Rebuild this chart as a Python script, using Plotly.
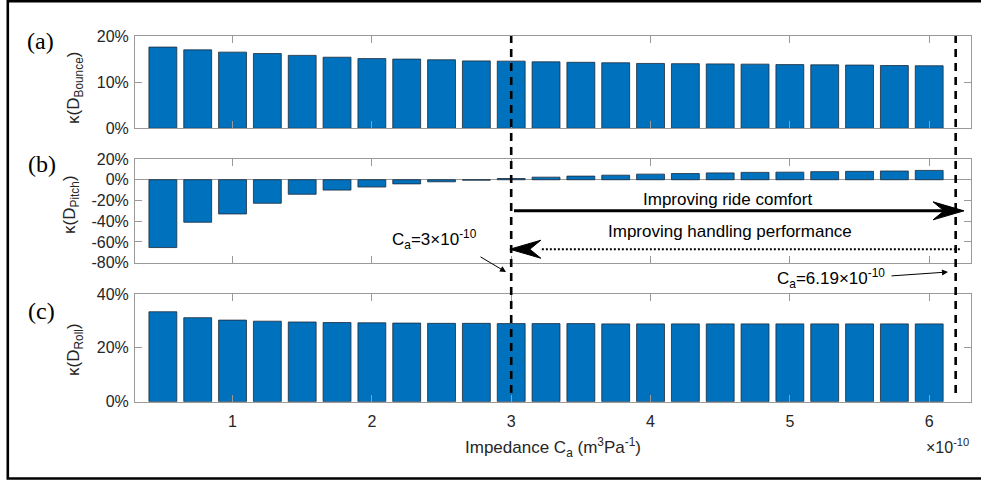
import plotly.graph_objects as go

# ---- data ---------------------------------------------------------------
impedance = [0.5, 0.75, 1.0, 1.25, 1.5, 1.75, 2.0, 2.25, 2.5, 2.75, 3.0, 3.25,
             3.5, 3.75, 4.0, 4.25, 4.5, 4.75, 5.0, 5.25, 5.5, 5.75, 6.0]  # x 1e-10 m^3/Pa

bounce = [17.6, 17.0, 16.5, 16.2, 15.8, 15.4, 15.1, 15.0, 14.85, 14.6, 14.55, 14.4,
          14.3, 14.2, 14.05, 14.0, 13.95, 13.9, 13.8, 13.75, 13.7, 13.6, 13.55]
pitch = [-65.4, -41.0, -33.0, -22.7, -14.0, -10.0, -7.0, -4.0, -2.0, -0.4, 1.2, 2.5,
         3.5, 4.4, 5.4, 6.0, 6.6, 7.1, 7.3, 7.8, 8.1, 8.4, 9.0]
roll = [33.4, 31.2, 30.3, 29.9, 29.6, 29.4, 29.3, 29.2, 29.1, 29.1, 29.0, 29.0,
        29.0, 28.9, 28.9, 28.9, 28.9, 28.9, 28.9, 28.9, 28.9, 28.9, 28.9]

x_ticks = [1, 2, 3, 4, 5, 6]
x_range = [0.3, 6.3]
bounce_ticks = [0, 10, 20]
pitch_ticks = [-80, -60, -40, -20, 0, 20]
roll_ticks = [0, 20, 40]

ca_low = 3.0     # C_a = 3e-10
ca_high = 6.19   # C_a = 6.19e-10

# ---- style --------------------------------------------------------------
W, H = 981, 481
FONT = "Liberation Sans, Arial, sans-serif"
SERIF = "Liberation Serif, Times New Roman, serif"
TXT = "#262626"
AXC = "#9a9a9a"
BAR = "#0072BD"
EDGE = "#1c2a3a"


def px(p):
    return p / W


def py(p):
    return 1 - p / H


def pct(vals):
    return [f"{v}%" for v in vals]


x_dom = [px(135), px(971)]
dom_a = [py(128.3), py(36)]
dom_b = [py(262.7), py(159)]
dom_c = [py(401.7), py(294)]

fig = go.Figure()
for vals, xa, ya in [(bounce, "x", "y"), (pitch, "x2", "y2"), (roll, "x3", "y3")]:
    fig.add_trace(go.Bar(
        x=impedance, y=vals, width=0.2, xaxis=xa, yaxis=ya,
        marker=dict(color=BAR, line=dict(color=EDGE, width=0.8)),
        showlegend=False, hoverinfo="x+y",
    ))

common = dict(showline=True, linecolor=AXC, linewidth=1, mirror="ticks",
              ticks="inside", ticklen=7, tickwidth=1, tickcolor=AXC,
              showgrid=False, zeroline=False, automargin=False,
              tickfont=dict(family=FONT, size=16, color=TXT))

xcommon = dict(common, range=x_range, tickvals=x_ticks, domain=x_dom)
ycommon = dict(common, ticklabelstandoff=2)

fig.update_layout(
    width=W, height=H, autosize=False,
    margin=dict(l=0, r=0, t=0, b=0, pad=0, autoexpand=False),
    paper_bgcolor="white", plot_bgcolor="white",
    showlegend=False,
    bargap=0.2,
    xaxis=dict(xcommon, anchor="y", showticklabels=False),
    xaxis2=dict(xcommon, anchor="y2", showticklabels=False, matches="x"),
    xaxis3=dict(xcommon, anchor="y3", matches="x", ticklabelstandoff=5),
    yaxis=dict(ycommon, domain=dom_a, anchor="x", range=[0, 20],
               tickvals=bounce_ticks, ticktext=pct(bounce_ticks)),
    yaxis2=dict(ycommon, domain=dom_b, anchor="x2", range=[-80, 20],
                tickvals=pitch_ticks, ticktext=pct(pitch_ticks),
                zeroline=True, zerolinecolor=AXC, zerolinewidth=1),
    yaxis3=dict(ycommon, domain=dom_c, anchor="x3", range=[0, 40],
                tickvals=roll_ticks, ticktext=pct(roll_ticks)),
)

shapes = []
# vertical dashed markers at the two C_a values
for xv in (ca_low, ca_high):
    shapes.append(dict(type="line", xref="x3", yref="paper",
                       x0=xv, x1=xv, y0=py(393), y1=py(36),
                       line=dict(color="black", width=2.6, dash="8px,6px"),
                       layer="above"))

# arrow geometry in panel (b) data units
kx = (971 - 135) / (x_range[1] - x_range[0])   # px per x unit
ky = (262.7 - 159) / 100.0                       # px per percent
HEAD_L, HEAD_W, NOTCH = 31, 9, 11


def head(xt, yt, d):
    xb = xt - d * HEAD_L / kx
    xn = xb + d * NOTCH / kx
    dy = HEAD_W / ky
    return dict(type="path", xref="x2", yref="y2", layer="above",
                path=f"M {xt},{yt} L {xb},{yt + dy} L {xn},{yt} L {xb},{yt - dy} Z",
                fillcolor="black", line=dict(color="black", width=1))


ride_y, ride_tip = -30, 6.25
hand_y, hand_tail = -67, 6.22
shapes.append(dict(type="line", xref="x2", yref="y2", x0=ca_low + 0.02,
                   x1=ride_tip - 15 / kx, y0=ride_y, y1=ride_y,
                   line=dict(color="black", width=3), layer="above"))
shapes.append(head(ride_tip, ride_y, 1))
shapes.append(dict(type="line", xref="x2", yref="y2", x0=hand_tail,
                   x1=ca_low + (HEAD_L - 2) / kx, y0=hand_y, y1=hand_y,
                   line=dict(color="black", width=2, dash="2px,2px"), layer="above"))
shapes.append(head(ca_low - 0.01, hand_y, -1))

# outer frame (its right edge lies beyond the page)
shapes.append(dict(type="rect", xref="paper", yref="paper",
                   x0=px(7.8), x1=1.02, y0=py(478.5), y1=py(1.3),
                   line=dict(color="black", width=2.6)))

ann = []


def text(x, y, s, size=17, font=FONT, color="black", xanchor="center", angle=0):
    ann.append(dict(x=px(x), y=py(y), xref="paper", yref="paper", text=s,
                    showarrow=False, xanchor=xanchor, yanchor="middle",
                    textangle=angle, font=dict(family=font, size=size, color=color)))


text(40, 41, "(a)", 24, SERIF)
text(42, 164, "(b)", 24, SERIF)
text(41, 311, "(c)", 24, SERIF)

text(75, 88, "κ(D<sub>Bounce</sub>)", 17, color=TXT, angle=-90)
text(71, 205, "κ(D<sub>Pitch</sub>)", 17, color=TXT, angle=-90)
text(75, 350, "κ(D<sub>Roll</sub>)", 17, color=TXT, angle=-90)

text(553, 447, "Impedance C<sub>a</sub> (m<sup>3</sup>Pa<sup>-1</sup>)", 17, color=TXT)
text(971, 446, "×10<sup>-10</sup>", 16, color=TXT, xanchor="right")

text(727, 199, "Improving ride comfort", 17)
text(730, 231, "Improving handling performance", 17)
text(434, 239, "C<sub>a</sub>=3×10<sup>-10</sup>", 17)
text(831, 278, "C<sub>a</sub>=6.19×10<sup>-10</sup>", 17)

# thin pointer arrows for the two C_a callouts
for (tx, ty), (sx, sy) in [((506, 272), (479, 256)), ((948, 272), (890, 276))]:
    ann.append(dict(x=px(tx), y=py(ty), xref="paper", yref="paper", text="",
                    showarrow=True, ax=sx - tx, ay=sy - ty, axref="pixel", ayref="pixel",
                    arrowhead=2, arrowsize=1.2, arrowwidth=1, arrowcolor="black",
                    standoff=0))

fig.update_layout(shapes=shapes, annotations=ann)
fig.write_html("out.html")
